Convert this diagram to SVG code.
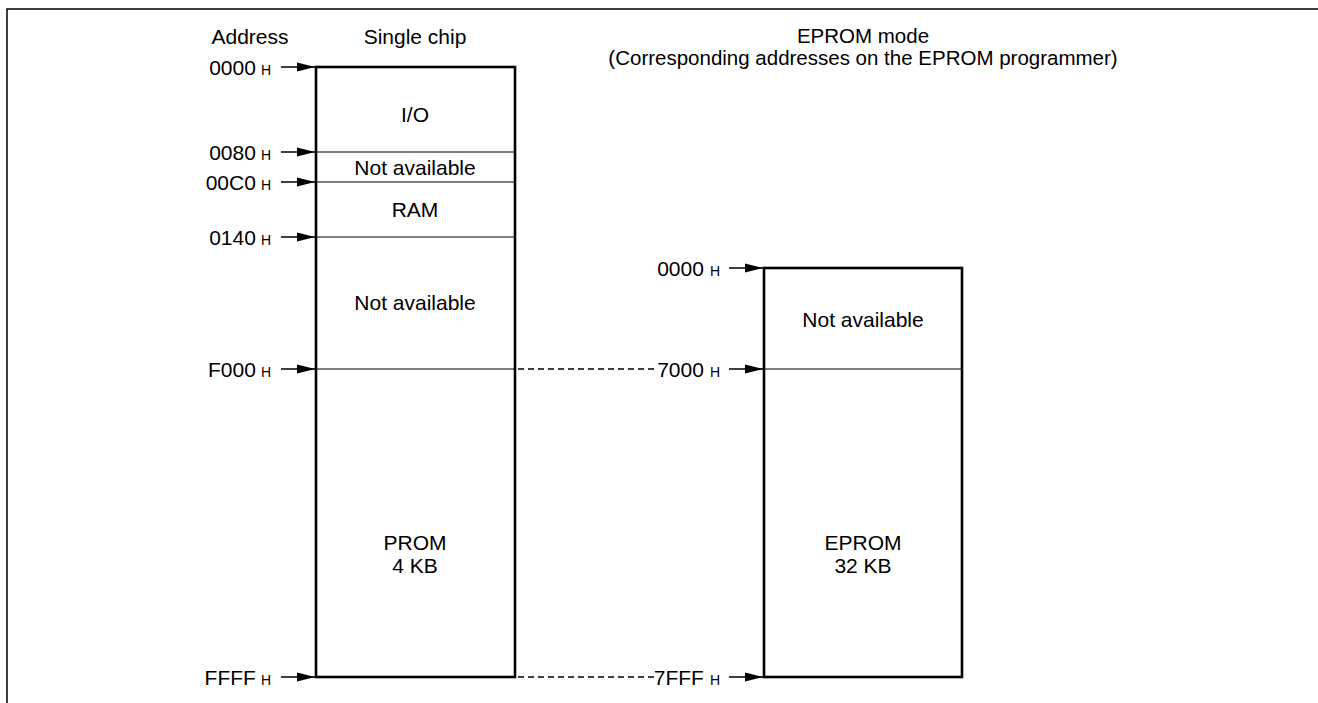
<svg xmlns="http://www.w3.org/2000/svg" width="1318" height="703" viewBox="0 0 1318 703">
<style>
text{font-family:"Liberation Sans",Arial,sans-serif;font-size:21px;fill:#000}
.c{text-anchor:middle}
.e{text-anchor:end}
.h{font-size:14px}
.hd{font-size:20.5px}
.box{fill:none;stroke:#000;stroke-width:2.6}
.div{stroke:#000;stroke-width:1.2}
.arr{stroke:#000;stroke-width:1.6;marker-end:url(#ah)}
.dash{stroke:#000;stroke-width:1.3;stroke-dasharray:6 4}
</style>
<defs>
<marker id="ah" markerWidth="18" markerHeight="10" refX="18" refY="5" orient="auto" markerUnits="userSpaceOnUse">
<path d="M0,0.5 L18,5 L0,9.5 Z" fill="#000"/>
</marker>
</defs>
<rect width="1318" height="703" fill="#fff"/>
<g id="frame">
<path d="M7,703 V9 H1318" fill="none" stroke="#000" stroke-width="1.5"/>
</g>
<g id="headers">
<text class="c" x="250" y="44">Address</text>
<text class="c" x="415" y="44">Single chip</text>
<text class="c hd" x="863" y="43">EPROM mode</text>
<text class="c hd" x="863" y="65">(Corresponding addresses on the EPROM programmer)</text>
</g>
<g id="single-chip">
<rect class="box" x="316" y="67" width="199" height="610"/>
<line class="div" x1="316" y1="152" x2="515" y2="152"/>
<line class="div" x1="316" y1="182" x2="515" y2="182"/>
<line class="div" x1="316" y1="237" x2="515" y2="237"/>
<line class="div" x1="316" y1="369" x2="515" y2="369"/>
<text class="c" x="415" y="122">I/O</text>
<text class="c" x="415" y="175">Not available</text>
<text class="c" x="415" y="217">RAM</text>
<text class="c" x="415" y="310">Not available</text>
<text class="c" x="415" y="550">PROM</text>
<text class="c" x="415" y="573">4 KB</text>
</g>
<g id="eprom">
<rect class="box" x="764" y="268" width="198" height="409"/>
<line class="div" x1="764" y1="369" x2="962" y2="369"/>
<text class="c" x="863" y="327">Not available</text>
<text class="c" x="863" y="550">EPROM</text>
<text class="c" x="863" y="573">32 KB</text>
</g>
<g id="left-labels">
<text class="e" x="271" y="75">0000<tspan class="h" dx="5">H</tspan></text>
<text class="e" x="271" y="160">0080<tspan class="h" dx="5">H</tspan></text>
<text class="e" x="271" y="190">00C0<tspan class="h" dx="5">H</tspan></text>
<text class="e" x="271" y="245">0140<tspan class="h" dx="5">H</tspan></text>
<text class="e" x="271" y="377">F000<tspan class="h" dx="5">H</tspan></text>
<text class="e" x="271" y="685">FFFF<tspan class="h" dx="5">H</tspan></text>
</g>
<g id="right-labels">
<text class="e" x="720" y="276">0000<tspan class="h" dx="6">H</tspan></text>
<text class="e" x="720" y="377">7000<tspan class="h" dx="6">H</tspan></text>
<text class="e" x="720" y="685">7FFF<tspan class="h" dx="6">H</tspan></text>
</g>
<g id="connectors">
<line class="arr" x1="281" y1="67" x2="315" y2="67"/>
<line class="arr" x1="281" y1="152" x2="315" y2="152"/>
<line class="arr" x1="281" y1="182" x2="315" y2="182"/>
<line class="arr" x1="281" y1="237" x2="315" y2="237"/>
<line class="arr" x1="281" y1="369" x2="315" y2="369"/>
<line class="arr" x1="281" y1="677" x2="315" y2="677"/>
<line class="arr" x1="729" y1="268" x2="763" y2="268"/>
<line class="arr" x1="729" y1="369" x2="763" y2="369"/>
<line class="arr" x1="729" y1="677" x2="763" y2="677"/>
<line class="dash" x1="518" y1="369" x2="658" y2="369"/>
<line class="dash" x1="518" y1="677" x2="654" y2="677"/>
</g>
</svg>
